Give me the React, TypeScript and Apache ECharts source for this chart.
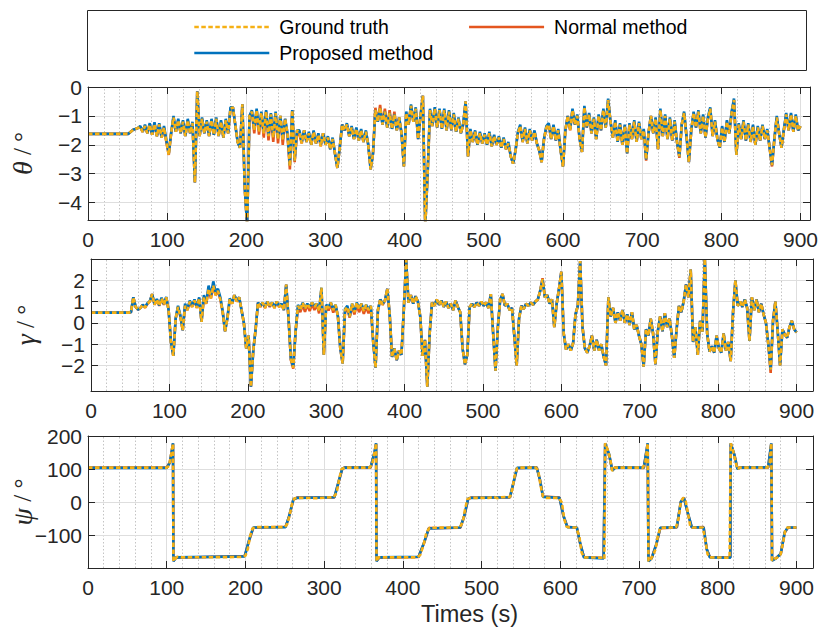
import React, { useEffect, useRef } from "react";
import * as echarts from "echarts";

// ---------- data ----------
const STEP = 3; // s, sampling of theta / gamma series

const X_TICKS = [0, 100, 200, 300, 400, 500, 600, 700, 800, 900];
const THETA_TICKS = [-4, -3, -2, -1, 0];
const GAMMA_TICKS = [-2, -1, 0, 1, 2];
const PSI_TICKS = [-100, 0, 100, 200];

const THETA_TRUTH = [
  -1.62, -1.62, -1.62, -1.62, -1.62, -1.62, -1.62, -1.62, -1.62, -1.62,
  -1.62, -1.62, -1.62, -1.62, -1.62, -1.62, -1.62, -1.62, -1.55, -1.48,
  -1.45, -1.42, -1.38, -1.55, -1.35, -1.6, -1.3, -1.65, -1.28, -1.7,
  -1.3, -1.75, -1.4, -1.9, -2.35, -1.6, -1.05, -1.55, -1.15, -1.6,
  -1.2, -1.7, -1.15, -1.6, -1.25, -3.3, -0.15, -1.7, -1.1, -1.6,
  -1.2, -1.7, -1.15, -1.65, -1.1, -1.7, -1.2, -1.75, -1.15, -1.6,
  -0.75, -0.7, -1.3, -1.9, -2.1, -0.6, -3.5, -4.8, -1.0, -0.85,
  -1.5, -0.8, -1.55, -0.9, -1.6, -0.85, -1.7, -0.95, -1.75, -0.9,
  -1.8, -1.0, -1.85, -1.1, -1.6, -2.75, -0.8, -2.55, -1.5, -1.55,
  -1.95, -1.5, -1.9, -1.6, -2.0, -1.55, -1.95, -1.65, -2.05, -1.6,
  -2.0, -1.75, -2.15, -1.8, -2.3, -2.8, -2.1, -1.3, -1.5, -1.3,
  -1.7, -1.4, -1.8, -1.45, -1.85, -1.5, -1.9, -1.55, -2.0, -2.85,
  -2.3, -0.8, -1.2, -0.7, -1.3, -0.85, -1.4, -0.9, -1.45, -0.95,
  -1.5, -1.05, -1.6, -2.75, -0.9, -1.3, -0.65, -1.2, -0.75, -1.8,
  -1.0, -0.3, -4.8, -3.0, -0.8, -1.35, -0.75, -1.4, -0.8, -1.45,
  -0.8, -1.5, -0.85, -1.5, -0.95, -1.55, -1.1, -1.6, -1.3, -0.5,
  -2.4, -1.5, -1.9, -1.55, -2.0, -1.6, -1.95, -1.65, -2.0, -1.6,
  -2.05, -1.7, -2.0, -1.75, -2.1, -1.8, -2.15, -1.95, -2.4, -2.65,
  -2.2, -1.6, -1.35, -1.9, -1.45, -1.95, -1.5, -1.85, -1.55, -1.95,
  -2.2, -2.6, -1.8, -1.4, -1.3, -1.8, -1.35, -1.85, -1.5, -2.2,
  -2.75, -1.5, -1.0, -1.5, -0.8, -1.3, -1.0, -1.8, -2.25, -0.7,
  -1.4, -0.95, -1.6, -1.1, -1.8, -1.0, -1.5, -0.8, -1.4, -0.45,
  -1.2, -1.75, -1.2, -1.9, -1.3, -2.0, -1.35, -2.3, -1.3, -1.8,
  -1.2, -1.9, -1.25, -1.8, -1.5, -2.5, -1.6, -1.0, -1.6, -1.1,
  -2.15, -0.8, -1.7, -1.0, -1.8, -1.1, -1.85, -1.2, -1.9, -2.4,
  -1.3, -0.9, -1.7, -2.6, -1.5, -0.9, -1.4, -0.85, -1.6, -1.0,
  -1.75, -1.1, -0.75, -1.7, -1.2, -1.8, -2.1, -1.4, -1.9, -1.2,
  -1.6, -0.9, -0.45, -2.35, -1.3, -1.8, -1.2, -1.85, -1.3, -1.9,
  -1.35, -2.0, -1.4, -1.85, -1.35, -1.8, -1.5, -2.1, -2.7, -1.8,
  -1.05, -1.6, -2.1, -1.5, -0.95, -1.5, -0.95, -1.55, -1.0, -1.5,
  -1.35,
];

const THETA_PROPOSED = [
  -1.62, -1.62, -1.62, -1.62, -1.62, -1.62, -1.62, -1.62, -1.62, -1.62,
  -1.62, -1.62, -1.62, -1.62, -1.62, -1.62, -1.62, -1.62, -1.55, -1.48,
  -1.45, -1.42, -1.35, -1.55, -1.3, -1.6, -1.25, -1.65, -1.22, -1.7,
  -1.25, -1.75, -1.35, -1.85, -2.3, -1.6, -1.0, -1.55, -1.1, -1.6,
  -1.15, -1.7, -1.1, -1.6, -1.2, -3.3, -0.15, -1.7, -1.05, -1.6,
  -1.15, -1.7, -1.1, -1.65, -1.05, -1.7, -1.15, -1.75, -1.1, -1.6,
  -0.7, -0.7, -1.3, -1.9, -2.1, -0.6, -3.5, -4.8, -1.0, -0.8,
  -1.45, -0.75, -1.5, -0.85, -1.55, -0.8, -1.65, -0.9, -1.7, -0.85,
  -1.75, -1.0, -1.8, -1.1, -1.6, -2.7, -0.8, -2.55, -1.5, -1.5,
  -1.9, -1.5, -1.9, -1.55, -2.0, -1.5, -1.95, -1.6, -2.0, -1.6,
  -2.0, -1.7, -2.15, -1.75, -2.3, -2.8, -2.1, -1.3, -1.5, -1.25,
  -1.7, -1.35, -1.8, -1.4, -1.85, -1.45, -1.9, -1.5, -2.0, -2.85,
  -2.3, -0.8, -1.2, -0.75, -1.3, -0.85, -1.4, -0.9, -1.45, -0.95,
  -1.5, -1.05, -1.6, -2.75, -0.85, -1.3, -0.6, -1.2, -0.7, -1.8,
  -1.0, -0.3, -4.8, -3.0, -0.75, -1.35, -0.7, -1.4, -0.75, -1.45,
  -0.75, -1.5, -0.8, -1.5, -0.9, -1.55, -1.05, -1.6, -1.25, -0.5,
  -2.4, -1.45, -1.9, -1.5, -2.0, -1.55, -1.95, -1.6, -2.0, -1.55,
  -2.05, -1.65, -2.0, -1.7, -2.1, -1.75, -2.15, -1.9, -2.4, -2.65,
  -2.2, -1.55, -1.3, -1.9, -1.4, -1.95, -1.45, -1.85, -1.5, -1.95,
  -2.2, -2.6, -1.8, -1.35, -1.25, -1.8, -1.3, -1.85, -1.45, -2.2,
  -2.75, -1.5, -1.0, -1.45, -0.75, -1.3, -0.95, -1.8, -2.25, -0.65,
  -1.4, -0.9, -1.6, -1.05, -1.8, -0.95, -1.5, -0.75, -1.4, -0.4,
  -1.2, -1.75, -1.15, -1.9, -1.25, -2.0, -1.3, -2.3, -1.25, -1.8,
  -1.15, -1.9, -1.2, -1.8, -1.45, -2.5, -1.6, -1.0, -1.6, -1.05,
  -2.15, -0.75, -1.7, -0.95, -1.8, -1.05, -1.85, -1.15, -1.9, -2.4,
  -1.3, -0.85, -1.7, -2.6, -1.5, -0.85, -1.4, -0.8, -1.6, -0.95,
  -1.75, -1.05, -0.7, -1.7, -1.15, -1.8, -2.1, -1.35, -1.9, -1.15,
  -1.6, -0.85, -0.4, -2.35, -1.25, -1.8, -1.15, -1.85, -1.25, -1.9,
  -1.3, -2.0, -1.35, -1.85, -1.3, -1.8, -1.45, -2.1, -2.7, -1.8,
  -1.0, -1.6, -2.1, -1.45, -0.9, -1.5, -0.9, -1.55, -0.95, -1.5,
  -1.35,
];

const THETA_NORMAL = [
  -1.62, -1.62, -1.62, -1.62, -1.62, -1.62, -1.62, -1.62, -1.62, -1.62,
  -1.62, -1.62, -1.62, -1.62, -1.62, -1.62, -1.62, -1.62, -1.55, -1.48,
  -1.45, -1.42, -1.38, -1.55, -1.35, -1.6, -1.3, -1.65, -1.28, -1.7,
  -1.3, -1.75, -1.4, -1.9, -2.35, -1.6, -1.05, -1.55, -1.15, -1.6,
  -1.2, -1.7, -1.15, -1.6, -1.25, -3.3, -0.15, -1.7, -1.1, -1.6,
  -1.2, -1.7, -1.15, -1.65, -1.1, -1.7, -1.2, -1.75, -1.15, -1.6,
  -0.75, -0.7, -1.3, -1.9, -2.1, -0.6, -3.5, -4.8, -1.0, -0.85,
  -1.6, -0.8, -1.65, -0.9, -1.75, -0.85, -1.85, -0.95, -1.9, -0.9,
  -1.95, -1.0, -2.0, -1.1, -1.7, -2.85, -0.8, -2.6, -1.6, -1.65,
  -1.95, -1.5, -1.9, -1.6, -2.0, -1.55, -1.95, -1.65, -2.05, -1.6,
  -2.0, -1.75, -2.15, -1.8, -2.3, -2.8, -2.1, -1.3, -1.5, -1.3,
  -1.7, -1.4, -1.8, -1.45, -1.85, -1.5, -1.9, -1.55, -2.0, -2.85,
  -2.3, -0.72, -1.2, -0.62, -1.3, -0.75, -1.4, -0.8, -1.45, -0.85,
  -1.5, -1.05, -1.6, -2.75, -0.9, -1.3, -0.65, -1.2, -0.75, -1.8,
  -1.0, -0.3, -4.8, -3.0, -0.8, -1.35, -0.75, -1.4, -0.8, -1.45,
  -0.8, -1.5, -0.85, -1.5, -0.95, -1.55, -1.1, -1.6, -1.3, -0.5,
  -2.4, -1.5, -1.9, -1.55, -2.0, -1.6, -1.95, -1.65, -2.0, -1.6,
  -2.05, -1.7, -2.0, -1.75, -2.1, -1.8, -2.15, -1.95, -2.4, -2.65,
  -2.2, -1.6, -1.35, -1.9, -1.45, -1.95, -1.5, -1.85, -1.55, -1.95,
  -2.2, -2.6, -1.8, -1.4, -1.3, -1.8, -1.35, -1.85, -1.5, -2.2,
  -2.75, -1.5, -1.0, -1.5, -0.8, -1.3, -1.0, -1.8, -2.25, -0.7,
  -1.4, -0.95, -1.6, -1.1, -1.8, -1.0, -1.5, -0.8, -1.4, -0.45,
  -1.2, -1.75, -1.2, -1.9, -1.3, -2.0, -1.35, -2.3, -1.3, -1.8,
  -1.2, -1.9, -1.25, -1.8, -1.5, -2.55, -1.6, -1.0, -1.6, -1.1,
  -2.15, -0.8, -1.7, -1.0, -1.8, -1.1, -1.85, -1.2, -1.9, -2.45,
  -1.3, -0.9, -1.7, -2.6, -1.5, -0.9, -1.4, -0.85, -1.6, -1.0,
  -1.75, -1.1, -0.75, -1.7, -1.2, -1.8, -2.1, -1.4, -1.9, -1.2,
  -1.6, -0.9, -0.45, -2.35, -1.3, -1.8, -1.2, -1.85, -1.3, -1.9,
  -1.35, -2.0, -1.4, -1.85, -1.35, -1.8, -1.5, -2.1, -2.75, -1.8,
  -1.05, -1.6, -2.1, -1.5, -0.95, -1.5, -0.95, -1.55, -1.0, -1.5,
  -1.35,
];

const GAMMA_TRUTH = [
  0.48, 0.48, 0.48, 0.48, 0.48, 0.48, 0.48, 0.48, 0.48, 0.48,
  0.48, 0.48, 0.48, 0.48, 0.48, 0.48, 0.48, 0.5, 1.2, 0.75,
  0.62, 0.7, 0.85, 0.72, 0.9, 1.0, 1.35, 0.85, 1.1, 0.8,
  1.15, 0.85, 1.2, 0.6, -0.9, -1.55, 0.2, 0.75, 0.3, -0.35,
  0.8, 0.6, 1.0, 0.75, 1.05, 0.7, 1.15, 0.05, 1.2, 0.9,
  1.6, 1.15, 1.75, 1.3, 1.5, 1.1, 0.5, -0.4, 0.2, 1.1,
  0.9, 1.3, 1.0, 1.2, 0.6, 0.0, -1.2, -0.6, -3.0, -1.3,
  -0.3, 0.95, 0.75, 0.95, 0.7, 1.0, 0.75, 0.95, 0.7, 1.0,
  0.75, 0.9, 0.6, 1.8, 0.2, -1.7, -2.1, -0.4, 0.8, 0.6,
  0.95, 0.65, 0.9, 0.7, 0.95, 0.75, 0.9, 0.55, 1.65, -1.5,
  0.85, 0.7, 0.95, 0.6, 0.85, 0.3, -1.2, -1.9, 0.6, 0.75,
  0.3, 0.9, 0.5, 0.95, 0.65, 0.9, 0.55, 0.85, 0.6, 0.8,
  -0.9, -2.1, 0.6, 1.1, 0.85, 1.05, 1.6, 0.4, -1.6, -1.2,
  -1.75, -1.3, -1.5, 0.6, 2.95, 0.95, 1.3, 0.9, 1.25, 1.0,
  0.3, -1.55, -0.8, -3.0, -0.5, 0.95, 0.8, 1.1, 0.85, 1.05,
  0.75, 1.0, 0.7, 0.9, 0.6, 1.05, 0.75, 0.5, -1.2, -1.95,
  -1.5, 0.75, 0.9, 0.75, 0.95, 0.8, 1.0, 0.8, 0.95, 0.7,
  1.35, -0.5, -2.25, -0.2, 1.1, 1.35, 0.8, 0.9, 0.6, 0.7,
  -0.6, -2.0, 0.2, 0.8, 0.65, 0.9, 0.8, 0.95, 0.85, 1.0,
  1.1, 1.5, 2.05, 1.2, 1.3, 0.9, 1.1, -0.2, 0.9, 1.6,
  2.4, -0.5, -1.25, -1.0, -1.3, -0.95, 0.4, 0.8, 2.9, -0.2,
  -1.2, -1.4, -1.1, -0.6, -1.3, -0.8, -1.3, -1.0, -1.6, -2.0,
  1.2, 0.3, 0.7, 0.0, 0.5, 0.1, 0.6, 0.0, 0.4, -0.1,
  0.5, -0.3, -0.1, -0.6, -1.0, -2.05, -0.3, -0.6, 0.2, -0.5,
  -1.95, -0.4, 0.3, -0.4, 0.45, -0.2, 0.2, -0.6, -1.64, -0.3,
  0.8, 0.5, 1.0, 1.8, 1.2, 2.5, -0.9, -0.2, -1.5, 0.1,
  -0.4, 3.0, -0.5, -1.35, -1.1, -1.4, -0.6, -1.2, -1.4, -0.5,
  -1.3, -0.9, -1.8, 0.5, 2.0, 0.8, 1.0, 0.75, 1.1, 0.7,
  -0.85, 1.2, 0.6, 1.1, 0.5, 0.9, 0.4, 0.0, -1.0, -2.2,
  0.1, 1.0, -0.4, -2.0, -0.3, -0.55, -0.7, -0.2, 0.1, -0.3,
  -0.45,
];

const GAMMA_PROPOSED = [
  0.48, 0.48, 0.48, 0.48, 0.48, 0.48, 0.48, 0.48, 0.48, 0.48,
  0.48, 0.48, 0.48, 0.48, 0.48, 0.48, 0.48, 0.5, 1.2, 0.75,
  0.62, 0.7, 0.85, 0.75, 0.92, 1.02, 1.35, 0.88, 1.12, 0.82,
  1.18, 0.88, 1.22, 0.6, -0.9, -1.55, 0.2, 0.8, 0.35, -0.35,
  0.9, 0.65, 1.05, 0.8, 1.1, 0.75, 1.2, 0.05, 1.3, 0.95,
  1.75, 1.3, 1.95, 1.45, 1.6, 1.2, 0.55, -0.4, 0.25, 1.15,
  0.95, 1.3, 1.05, 1.2, 0.6, 0.0, -1.2, -0.6, -3.0, -1.3,
  -0.3, 0.95, 0.8, 0.95, 0.75, 1.0, 0.8, 0.95, 0.75, 1.0,
  0.8, 0.9, 0.6, 1.8, 0.2, -1.7, -2.05, -0.4, 0.85, 0.65,
  0.95, 0.7, 0.9, 0.75, 0.95, 0.8, 0.9, 0.6, 1.65, -1.5,
  0.85, 0.75, 0.95, 0.65, 0.85, 0.3, -1.2, -1.9, 0.65, 0.8,
  0.3, 0.9, 0.55, 0.95, 0.7, 0.9, 0.6, 0.85, 0.65, 0.8,
  -0.9, -2.1, 0.6, 1.1, 0.9, 1.05, 1.6, 0.4, -1.6, -1.2,
  -1.75, -1.3, -1.5, 0.6, 2.95, 0.95, 1.3, 0.9, 1.25, 1.0,
  0.3, -1.55, -0.8, -3.0, -0.5, 0.95, 0.8, 1.1, 0.85, 1.05,
  0.75, 1.0, 0.7, 0.9, 0.6, 1.05, 0.75, 0.5, -1.2, -1.95,
  -1.5, 0.75, 0.9, 0.75, 0.95, 0.8, 1.0, 0.8, 0.95, 0.7,
  1.35, -0.5, -2.25, -0.2, 1.1, 1.35, 0.8, 0.9, 0.6, 0.7,
  -0.6, -2.0, 0.2, 0.8, 0.65, 0.9, 0.8, 0.95, 0.85, 1.0,
  1.1, 1.5, 2.05, 1.2, 1.3, 0.9, 1.1, -0.2, 0.9, 1.6,
  2.4, -0.5, -1.25, -1.0, -1.3, -0.95, 0.4, 0.8, 2.9, -0.2,
  -1.2, -1.4, -1.1, -0.6, -1.3, -0.8, -1.3, -1.0, -1.6, -2.0,
  1.2, 0.3, 0.7, 0.0, 0.5, 0.1, 0.6, 0.0, 0.4, -0.1,
  0.5, -0.3, -0.1, -0.6, -1.0, -2.05, -0.3, -0.6, 0.2, -0.5,
  -1.95, -0.4, 0.3, -0.4, 0.45, -0.2, 0.2, -0.6, -1.64, -0.3,
  0.8, 0.5, 1.0, 1.8, 1.2, 2.5, -0.9, -0.2, -1.5, 0.1,
  -0.4, 3.0, -0.5, -1.35, -1.1, -1.4, -0.6, -1.2, -1.4, -0.5,
  -1.3, -0.9, -1.8, 0.5, 2.0, 0.8, 1.0, 0.75, 1.1, 0.7,
  -0.85, 1.2, 0.6, 1.1, 0.5, 0.9, 0.4, 0.0, -1.0, -2.2,
  0.1, 1.0, -0.4, -2.0, -0.3, -0.55, -0.7, -0.2, 0.1, -0.3,
  -0.45,
];

const GAMMA_NORMAL = [
  0.48, 0.48, 0.48, 0.48, 0.48, 0.48, 0.48, 0.48, 0.48, 0.48,
  0.48, 0.48, 0.48, 0.48, 0.48, 0.48, 0.48, 0.5, 1.2, 0.75,
  0.62, 0.7, 0.85, 0.72, 0.9, 1.0, 1.35, 0.85, 1.1, 0.8,
  1.15, 0.85, 1.2, 0.6, -0.9, -1.55, 0.2, 0.75, 0.3, -0.35,
  0.8, 0.6, 1.0, 0.75, 1.05, 0.7, 1.15, 0.05, 1.2, 0.9,
  1.6, 1.15, 1.75, 1.3, 1.5, 1.1, 0.5, -0.4, 0.2, 1.1,
  0.9, 1.3, 1.0, 1.2, 0.6, 0.0, -1.2, -0.6, -3.0, -1.3,
  -0.3, 0.95, 0.75, 0.95, 0.7, 1.0, 0.75, 0.95, 0.7, 1.0,
  0.75, 0.9, 0.6, 1.8, 0.2, -1.75, -2.15, -0.4, 0.7, 0.5,
  0.85, 0.52, 0.85, 0.55, 0.9, 0.6, 0.85, 0.45, 1.6, -1.5,
  0.8, 0.58, 0.9, 0.48, 0.8, 0.3, -1.2, -1.9, 0.5, 0.65,
  0.25, 0.8, 0.4, 0.85, 0.5, 0.8, 0.42, 0.75, 0.45, 0.7,
  -0.9, -2.1, 0.6, 1.1, 0.85, 1.05, 1.6, 0.4, -1.6, -1.2,
  -1.75, -1.3, -1.5, 0.6, 2.95, 0.95, 1.3, 0.9, 1.25, 1.0,
  0.3, -1.55, -0.8, -3.0, -0.5, 0.95, 0.8, 1.1, 0.85, 1.05,
  0.75, 1.0, 0.7, 0.9, 0.6, 1.05, 0.75, 0.5, -1.2, -1.95,
  -1.5, 0.75, 0.9, 0.75, 0.95, 0.8, 1.0, 0.8, 0.95, 0.7,
  1.35, -0.5, -2.25, -0.2, 1.1, 1.35, 0.8, 0.9, 0.6, 0.7,
  -0.6, -2.0, 0.2, 0.8, 0.65, 0.9, 0.8, 0.95, 0.85, 1.0,
  1.1, 1.5, 2.1, 1.2, 1.3, 0.9, 1.1, -0.2, 0.9, 1.6,
  2.4, -0.5, -1.25, -1.0, -1.3, -0.95, 0.4, 0.8, 2.9, -0.2,
  -1.2, -1.4, -1.1, -0.6, -1.3, -0.8, -1.3, -1.0, -1.6, -2.0,
  1.2, 0.3, 0.7, 0.0, 0.5, 0.1, 0.6, 0.0, 0.4, -0.1,
  0.5, -0.3, -0.1, -0.6, -1.0, -2.05, -0.3, -0.6, 0.2, -0.5,
  -1.95, -0.4, 0.3, -0.4, 0.45, -0.2, 0.2, -0.6, -1.64, -0.3,
  0.8, 0.5, 1.0, 1.8, 1.2, 2.5, -0.9, -0.2, -1.5, 0.1,
  -0.4, 3.0, -0.5, -1.35, -1.1, -1.4, -0.6, -1.2, -1.4, -0.5,
  -1.3, -0.9, -1.8, 0.5, 2.0, 0.8, 1.0, 0.75, 1.1, 0.7,
  -0.85, 1.2, 0.6, 1.1, 0.5, 0.9, 0.4, 0.0, -1.0, -2.35,
  0.1, 1.0, -0.4, -2.0, -0.3, -0.55, -0.7, -0.2, 0.1, -0.3,
  -0.45,
];

// [time (s), heading (deg)]
const PSI_TRUTH = [
  [0, 105], [100, 105], [103, 110], [106, 150], [108, 177], [108.5, -176], [110, -172], [113, -163],
  [120, -165], [195, -164], [200, -160], [203, -140], [206, -100], [209, -78], [213, -74], [250, -74],
  [253, -65], [256, -40], [259, -5], [262, 12], [266, 14], [290, 13], [312, 16], [316, 30], [319, 70],
  [322, 100], [326, 105], [358, 105], [361, 115], [364, 150], [366, 178], [366.5, -177], [369, -165],
  [418, -165], [422, -158], [426, -130], [430, -90], [434, -76], [472, -75], [476, -60], [479, -20],
  [482, 10], [486, 14], [510, 14], [515, 17], [520, 13], [525, 16], [536, 17], [539, 40], [542, 80],
  [545, 103], [548, 105], [569, 105], [572, 95], [575, 50], [578, 18], [582, 14], [598, 14], [602, 0],
  [605, -50], [608, -73], [612, -75], [620, -75], [624, -100], [627, -150], [630, -165], [654, -166],
  [656, -170], [657, 178], [660, 160], [663, 135], [666, 95], [669, 105], [705, 105], [708, 120],
  [711, 178], [712, -177], [715, -170], [718, -158], [721, -140], [724, -100], [727, -76], [747, -75],
  [750, -50], [753, 0], [756, 14], [759, 8], [762, -30], [765, -70], [768, -75], [781, -75], [784, -110],
  [787, -155], [790, -165], [815, -166], [816.5, 178], [819, 160], [822, 130], [825, 100], [828, 105],
  [863, 105], [866, 120], [868, 178], [869, -175], [872, -170], [876, -165], [880, -155], [883, -120],
  [886, -80], [889, -75], [900, -75],
];

const PSI_PROPOSED = [
  [0, 104], [100, 104], [104, 120], [108, 178], [108.5, -177], [112, -165], [199, -162], [205, -110],
  [210, -75], [251, -74], [255, -45], [261, 10], [266, 14], [313, 16], [318, 60], [323, 102], [327, 105],
  [359, 106], [364, 152], [366, 178], [366.5, -177], [370, -165], [420, -163], [427, -120], [433, -78],
  [473, -75], [478, -40], [483, 12], [487, 14], [536, 16], [540, 55], [545, 104], [570, 105], [574, 70],
  [578, 17], [599, 14], [604, -40], [609, -74], [621, -75], [625, -120], [630, -165], [655, -168],
  [657, 178], [662, 145], [666, 96], [670, 105], [706, 105], [711, 178], [712, -177], [716, -168],
  [722, -125], [727, -76], [748, -74], [753, 2], [757, 14], [762, -32], [767, -74], [782, -75],
  [786, -140], [790, -165], [816, -166], [816.5, 178], [821, 145], [825, 101], [829, 105], [864, 106],
  [868, 178], [869, -175], [874, -168], [880, -154], [885, -90], [889, -75], [900, -75],
];

const PSI_NORMAL = [
  [0, 105], [100, 105], [104, 121], [108, 177], [108.5, -176], [112, -166], [199, -161], [205, -112],
  [210, -76], [251, -73], [255, -46], [261, 9], [266, 15], [313, 15], [318, 58], [323, 101], [327, 106],
  [359, 105], [364, 150], [366, 177], [366.5, -176], [370, -166], [420, -164], [427, -121], [433, -77],
  [473, -76], [478, -41], [483, 11], [487, 15], [536, 15], [540, 54], [545, 103], [570, 106], [574, 69],
  [578, 18], [599, 15], [604, -41], [609, -73], [621, -76], [625, -121], [630, -164], [655, -167],
  [657, 177], [662, 144], [666, 97], [670, 106], [706, 104], [711, 177], [712, -176], [716, -167],
  [722, -126], [727, -77], [748, -75], [753, 1], [757, 15], [762, -33], [767, -75], [782, -74],
  [786, -141], [790, -164], [816, -165], [816.5, 177], [821, 144], [825, 102], [829, 106], [864, 105],
  [868, 177], [869, -174], [874, -167], [880, -155], [885, -91], [889, -76], [900, -76],
];

// ---------- styling ----------
const YELLOW = "#F5B014";
const BLUE = "#0072BD";
const RED = "#E4561F";
const AXIS = "#262626";
const GRID_MAJOR = "#dedede";
const GRID_MINOR = "#c4c4c4";
const SANS = "Liberation Sans, Arial, Helvetica, sans-serif";
const SERIF = "Liberation Serif, DejaVu Serif, serif";
const TICK_FONT = 21;
const LINE_W = 2.6;

const MINOR_X: number[] = [];
for (let x = 20; x < 900; x += 20) if (x % 100 !== 0) MINOR_X.push(x);

const sampled = (vals: number[]) => vals.map((v, i) => [i * STEP, v]);

const minusFmt = (ticks: number[]) => (v: number) =>
  ticks.includes(v) ? String(v).replace("-", "\u2212") : "";

type Panel = {
  grid: { left: number; top: number; width: number; height: number };
  xMax: number;
  yMin: number;
  yMax: number;
  yTicks: number[];
  name: string;
  truth: number[][];
  proposed: number[][];
  normal: number[][];
};

const PANELS: Panel[] = [
  {
    grid: { left: 88, top: 87, width: 722, height: 133 },
    xMax: 912, yMin: -4.6, yMax: 0, yTicks: THETA_TICKS, name: "{t|θ} / °",
    truth: sampled(THETA_TRUTH), proposed: sampled(THETA_PROPOSED), normal: sampled(THETA_NORMAL),
  },
  {
    grid: { left: 91, top: 259, width: 722, height: 132 },
    xMax: 921, yMin: -3.2, yMax: 3, yTicks: GAMMA_TICKS, name: "{t|γ} / °",
    truth: sampled(GAMMA_TRUTH), proposed: sampled(GAMMA_PROPOSED), normal: sampled(GAMMA_NORMAL),
  },
  {
    grid: { left: 88, top: 436, width: 725, height: 132 },
    xMax: 921, yMin: -197, yMax: 200, yTicks: PSI_TICKS, name: "{t|ψ} / °",
    truth: PSI_TRUTH, proposed: PSI_PROPOSED, normal: PSI_NORMAL,
  },
];

function buildOption() {
  const grids: any[] = [];
  const xAxes: any[] = [];
  const yAxes: any[] = [];
  const series: any[] = [];

  PANELS.forEach((p, i) => {
    grids.push({ ...p.grid, show: false, outerBoundsMode: "none", containLabel: false });
    const axLine = { show: true, onZero: false, lineStyle: { color: AXIS, width: 1 } };
    const xTick = { show: true, inside: true, length: 7, customValues: X_TICKS, lineStyle: { color: AXIS, width: 1 } };
    const yTick = { show: true, inside: true, length: 7, customValues: p.yTicks, lineStyle: { color: AXIS, width: 1 } };
    const xBase = { type: "value", gridIndex: i, min: 0, max: p.xMax, interval: 100, z: 6, splitLine: { show: false } };
    const yBase = { type: "value", gridIndex: i, min: p.yMin, max: p.yMax, z: 6, splitLine: { show: false } };
    xAxes.push({
      ...xBase,
      position: "bottom",
      axisLine: axLine,
      axisTick: xTick,
      axisLabel: {
        customValues: X_TICKS, formatter: minusFmt(X_TICKS), fontSize: TICK_FONT,
        fontFamily: SANS, color: AXIS, margin: 9,
      },
      ...(i === 2
        ? {
            name: "Times (s)", nameLocation: "middle", nameGap: 34,
            nameTextStyle: { fontSize: 23.5, fontFamily: SANS, color: AXIS, padding: [0, 0, 0, 38] },
          }
        : {}),
    });
    xAxes.push({ ...xBase, position: "top", axisLine: axLine, axisTick: xTick, axisLabel: { show: false } });
    yAxes.push({
      ...yBase,
      position: "left",
      axisLine: axLine,
      axisTick: yTick,
      axisLabel: {
        customValues: p.yTicks, formatter: minusFmt(p.yTicks), fontSize: TICK_FONT,
        fontFamily: SANS, color: AXIS, margin: 6,
      },
      name: p.name,
      nameLocation: "middle",
      nameRotate: 90,
      nameGap: 52,
      nameMoveOverlap: false,
      nameTextStyle: {
        fontSize: 25, fontFamily: SERIF, color: AXIS,
        rich: { t: { fontSize: 28, fontFamily: SERIF, fontStyle: "italic", color: AXIS } },
      },
    });
    yAxes.push({ ...yBase, position: "right", axisLine: axLine, axisTick: yTick, axisLabel: { show: false } });

    const xi = 2 * i;
    const yi = 2 * i;
    // grid lines
    const major = { color: GRID_MAJOR, width: 1, type: "solid" };
    const minor = { color: GRID_MINOR, width: 1, type: [1.5, 2] };
    series.push({
      type: "line",
      xAxisIndex: xi,
      yAxisIndex: yi,
      data: [],
      silent: true,
      z: 1,
      markLine: {
        silent: true,
        z: 1,
        animation: false,
        symbol: ["none", "none"],
        label: { show: false },
        emphasis: { disabled: true },
        data: [
          ...MINOR_X.map((x) => ({ xAxis: x, lineStyle: minor })),
          ...X_TICKS.filter((x) => x > 0 && x < p.xMax).map((x) => ({ xAxis: x, lineStyle: major })),
          ...p.yTicks.filter((y) => y > p.yMin && y < p.yMax).map((y) => ({ yAxis: y, lineStyle: major })),
        ],
      },
    });
    const common = {
      type: "line", xAxisIndex: xi, yAxisIndex: yi, symbol: "none", showSymbol: false,
      silent: true, animation: false, clip: true,
    };
    series.push({
      ...common, name: "Normal method", data: p.normal, z: 3,
      lineStyle: { color: RED, width: LINE_W }, itemStyle: { color: RED },
    });
    series.push({
      ...common, name: "Proposed method", data: p.proposed, z: 4,
      lineStyle: { color: BLUE, width: LINE_W }, itemStyle: { color: BLUE },
    });
    series.push({
      ...common, name: "Ground truth", data: p.truth, z: 5,
      lineStyle: { color: YELLOW, width: LINE_W, type: [4.5, 2.5] }, itemStyle: { color: YELLOW },
    });
  });

  const legendText = { fontSize: 19.5, fontFamily: SANS, color: "#000", padding: [0, 0, 0, 5] };
  const hideSymbol = { color: "rgba(0,0,0,0)", borderColor: "rgba(0,0,0,0)", borderWidth: 0 };
  return {
    animation: false,
    backgroundColor: "#fff",
    grid: grids,
    xAxis: xAxes,
    yAxis: yAxes,
    series,
    legend: [
      {
        data: ["Ground truth", "Normal method"], left: 193, top: 17, padding: 0,
        itemWidth: 75, itemHeight: 14, itemGap: 79, textStyle: legendText, selectedMode: false,
        itemStyle: hideSymbol, lineStyle: { width: 2.6 },
      },
      {
        data: ["Proposed method"], left: 193, top: 43, padding: 0,
        itemWidth: 75, itemHeight: 14, textStyle: legendText, selectedMode: false,
        itemStyle: hideSymbol, lineStyle: { width: 2.6 },
      },
    ],
    graphic: [
      {
        type: "rect", x: 87.5, y: 10.5, z: 0,
        shape: { x: 0, y: 0, width: 719, height: 60 },
        style: { fill: "#fff", stroke: AXIS, lineWidth: 1 },
      },
    ],
  };
}

export default function App() {
  const ref = useRef<HTMLDivElement>(null);
  useEffect(() => {
    if (!ref.current) return;
    const chart = echarts.init(ref.current, null, { renderer: "svg" });
    chart.setOption(buildOption() as any);
    return () => chart.dispose();
  }, []);
  return (
    <div
      ref={ref}
      style={{ position: "absolute", left: 0, top: 0, width: 819, height: 631, background: "#fff" }}
    />
  );
}
